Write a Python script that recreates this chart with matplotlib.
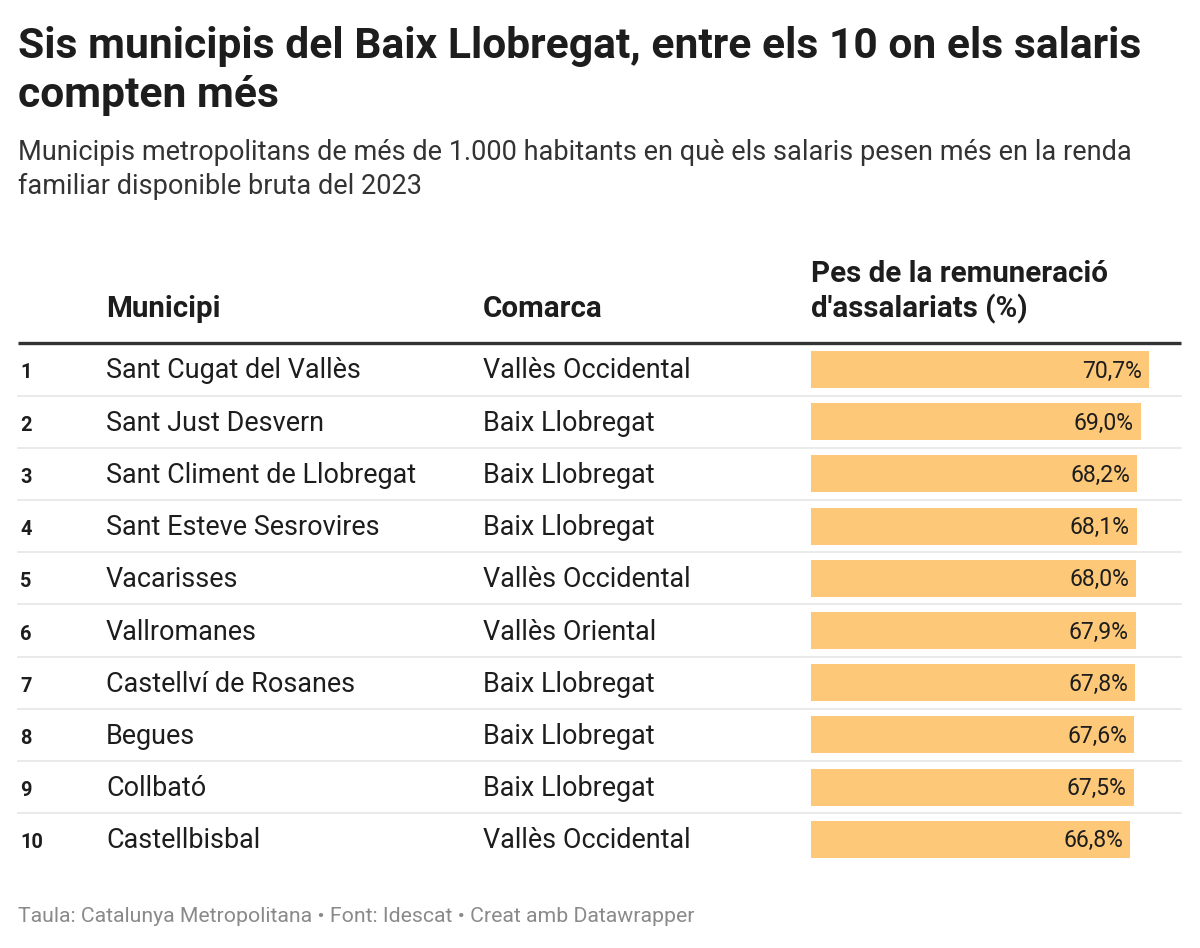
import matplotlib
matplotlib.use("Agg")
import matplotlib.pyplot as plt

ranks = ["1", "2", "3", "4", "5", "6", "7", "8", "9", "10"]
municipis = ["Sant Cugat del Vallès", "Sant Just Desvern", "Sant Climent de Llobregat",
             "Sant Esteve Sesrovires", "Vacarisses", "Vallromanes", "Castellví de Rosanes",
             "Begues", "Collbató", "Castellbisbal"]
comarques = ["Vallès Occidental", "Baix Llobregat", "Baix Llobregat", "Baix Llobregat",
             "Vallès Occidental", "Vallès Oriental", "Baix Llobregat", "Baix Llobregat",
             "Baix Llobregat", "Vallès Occidental"]
pes = [70.7, 69.0, 68.2, 68.1, 68.0, 67.9, 67.8, 67.6, 67.5, 66.8]

title_lines = ["Sis municipis del Baix Llobregat, entre els 10 on els salaris", "compten més"]
subtitle_lines = ["Municipis metropolitans de més de 1.000 habitants en què els salaris pesen més en la renda",
                  "familiar disponible bruta del 2023"]
headers = ["Municipi", "Comarca", "Pes de la remuneració", "d'assalariats (%)"]
footer = "Taula: Catalunya Metropolitana • Font: Idescat • Creat amb Datawrapper"

W, H = 1200, 948
plt.rcParams['font.family'] = ['Roboto', 'DejaVu Sans']
fig = plt.figure(figsize=(W / 100, H / 100), dpi=100)
ax = fig.add_axes([0, 0, 1, 1])
ax.set_xlim(0, W)
ax.set_ylim(H, 0)
ax.axis("off")

def pt(px):
    return px * 0.72

dark = "#1d1d1d"
for line, yb in zip(title_lines, [58, 107]):
    ax.text(18, yb, line, fontsize=pt(42.6), fontweight="bold", color=dark, va="baseline")
for line, yb in zip(subtitle_lines, [160, 194]):
    ax.text(18, yb, line, fontsize=pt(27.1), color="#333333", va="baseline")

# headers
hfs = pt(29.5)
ax.text(106, 317, headers[0], fontsize=hfs, fontweight="bold", color=dark, va="baseline")
ax.text(483, 317, headers[1], fontsize=hfs, fontweight="bold", color=dark, va="baseline")
ax.text(811, 282, headers[2], fontsize=hfs, fontweight="bold", color=dark, va="baseline")
ax.text(811, 317, headers[3], fontsize=hfs, fontweight="bold", color=dark, va="baseline")
ax.plot([18, 1181], [342.5, 342.5], color="#333333", lw=2.4, solid_capstyle="butt")

row0 = 369.5
step = 52.2
row_y = [row0 + i * step for i in range(len(pes))]
for i, y in enumerate(row_y):
    yb = y + 9
    ax.text(20, yb, ranks[i], fontsize=pt(20), fontweight="bold", color=dark, va="baseline")
    ax.text(106, yb, municipis[i], fontsize=pt(27), color=dark, va="baseline")
    ax.text(483, yb, comarques[i], fontsize=pt(27), color=dark, va="baseline")
    if i < len(pes) - 1:
        ax.plot([18, 1181], [y + step / 2, y + step / 2], color="#e6e6e6", lw=1.2)

ax.text(18, 922, footer, fontsize=pt(21.25), color="#8a8a8a", va="baseline")

# bar axes
x0, x1 = 811, 1181
bax = fig.add_axes([x0 / W, 0, (x1 - x0) / W, 1])
bax.set_ylim(H, 0)
bax.set_xlim(0, 70.7 * (x1 - x0) / 338.0)
bax.axis("off")
bax.barh(row_y, pes, height=37, left=0, color="#fdc878", edgecolor="none")
px_per = 338.0 / 70.7
for y, v in zip(row_y, pes):
    bax.text(v - 7 / px_per, y + 8, f"{v:.1f}%".replace(".", ","), fontsize=pt(23),
             color=dark, va="baseline", ha="right")

fig.savefig("out.png", dpi=100, facecolor="white")
